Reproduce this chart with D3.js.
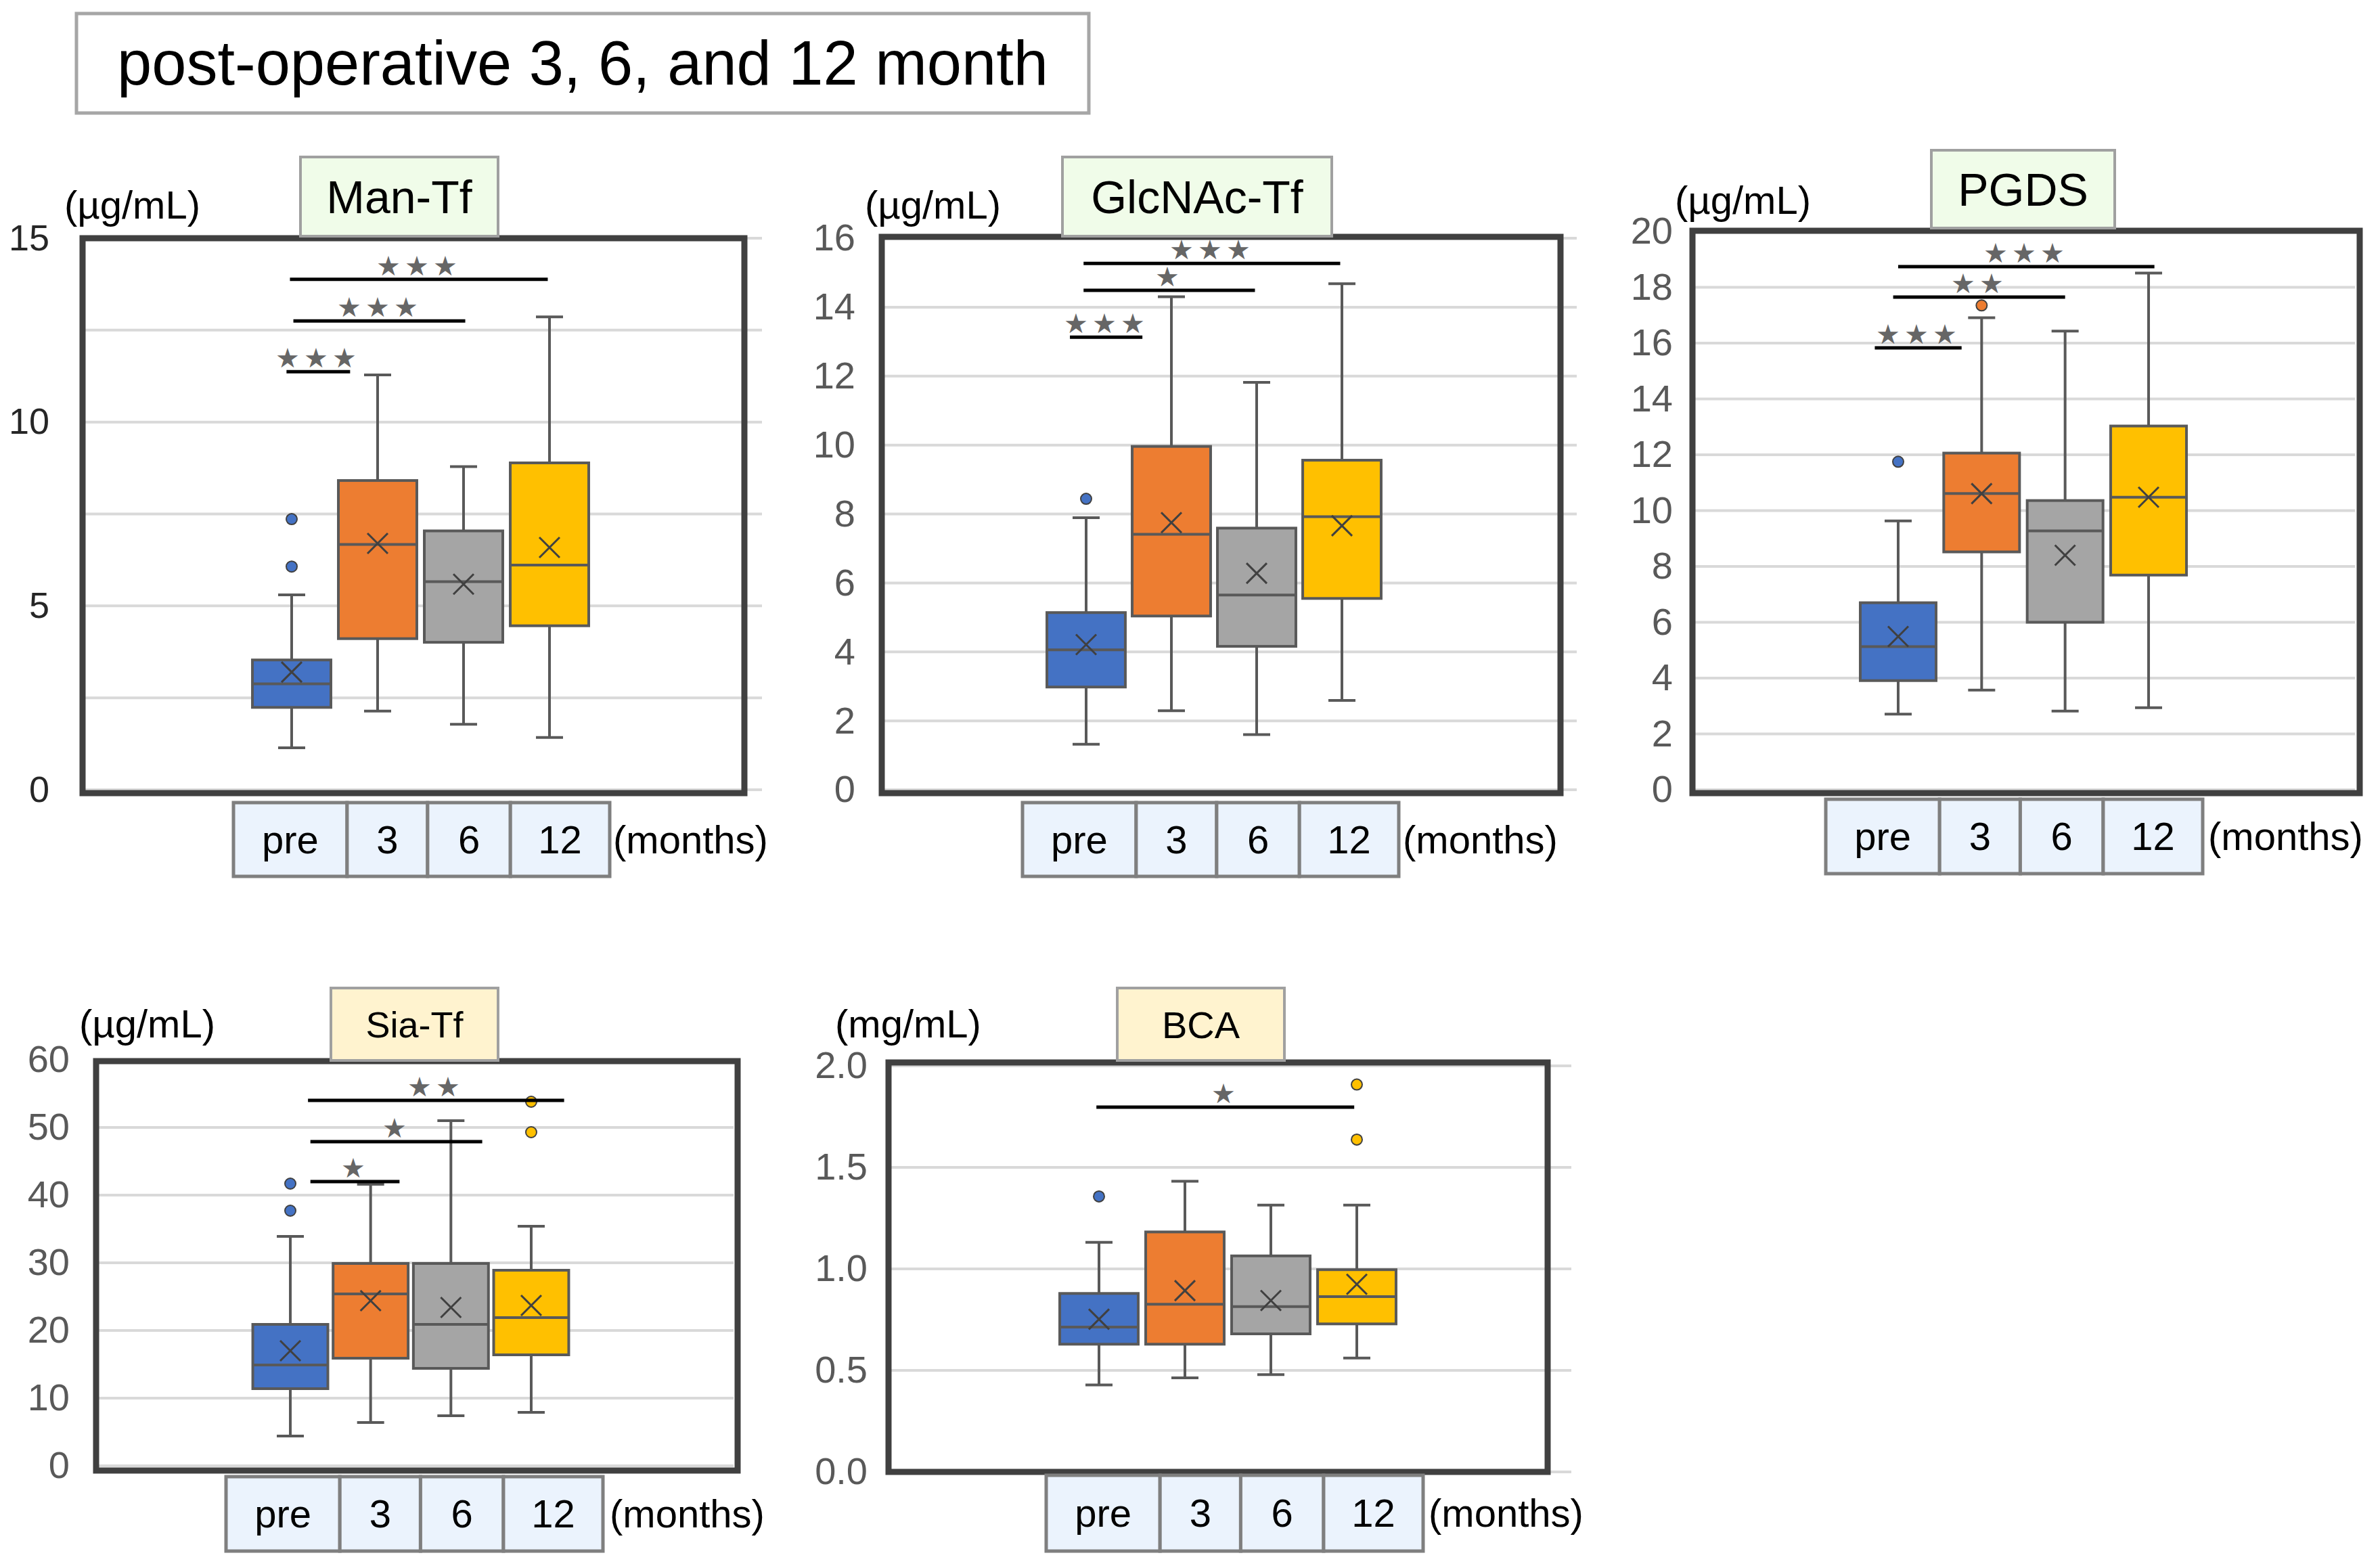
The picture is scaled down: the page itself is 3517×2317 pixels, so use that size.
<!DOCTYPE html>
<html>
<head>
<meta charset="utf-8">
<script src="https://cdn.jsdelivr.net/npm/d3@7"></script>
<style>
  body { margin: 0; background: #fff; }
  text { font-family: "Liberation Sans", Arial, sans-serif; }
</style>
</head>
<body>
<script>
// categories on the x axis
var categories = ["pre", "3", "6", "12"]
var colors = ["#4472C4", "#ED7D31", "#A5A5A5", "#FFC000"]

// box stats per category: [whisker low, Q1, median, Q3, whisker high, mean]
var manTfStats = [
  [1.14, 2.24, 2.88, 3.53, 5.30, 3.20],
  [2.14, 4.11, 6.67, 8.41, 11.28, 6.70],
  [1.78, 4.01, 5.66, 7.04, 8.79, 5.59],
  [1.42, 4.46, 6.11, 8.89, 12.86, 6.59]
]
var glcStats = [
  [1.32, 2.98, 4.06, 5.14, 7.89, 4.21],
  [2.29, 5.04, 7.41, 9.96, 14.30, 7.75],
  [1.60, 4.16, 5.65, 7.59, 11.82, 6.28],
  [2.59, 5.55, 7.92, 9.56, 14.68, 7.66]
]
var pgdsStats = [
  [2.71, 3.91, 5.13, 6.70, 9.63, 5.49],
  [3.57, 8.52, 10.61, 12.06, 16.91, 10.61],
  [2.82, 6.00, 9.27, 10.36, 16.43, 8.40],
  [2.94, 7.69, 10.48, 13.03, 18.51, 10.48]
]
var siaStats = [
  [4.4, 11.4, 14.9, 20.9, 33.9, 17.0],
  [6.4, 15.9, 25.4, 29.9, 41.6, 24.4],
  [7.4, 14.4, 20.9, 29.9, 51.0, 23.4],
  [7.9, 16.4, 21.9, 28.9, 35.4, 23.7]
]
var bcaStats = [
  [0.428, 0.629, 0.713, 0.879, 1.131, 0.752],
  [0.463, 0.629, 0.826, 1.182, 1.432, 0.893],
  [0.479, 0.680, 0.814, 1.064, 1.314, 0.844],
  [0.561, 0.729, 0.863, 0.996, 1.314, 0.924]
]

// outliers per category
var manTfOutliers = [[7.36, 6.07], [], [], []]
var glcOutliers = [[8.44], [], [], []]
var pgdsOutliers = [[11.75], [17.35], [], []]
var siaOutliers = [[41.7, 37.7], [], [], [53.8, 49.3]]
var bcaOutliers = [[1.357], [], [], [1.908, 1.637]]

// significance bars: [from (category index), to (category index), level, label]
var manTfSig = [[-0.06, 0.68, 11.37, "***"], [0.02, 2.02, 12.75, "***"], [-0.02, 2.98, 13.88, "***"]]
var glcSig = [[-0.19, 0.66, 13.13, "***"], [-0.03, 1.98, 14.49, "*"], [-0.03, 2.98, 15.27, "***"]]
var pgdsSig = [[-0.28, 0.76, 15.83, "***"], [-0.06, 2.0, 17.65, "**"], [0, 3.07, 18.74, "***"]]
var siaSig = [[0.25, 1.36, 42.0, "*"], [0.25, 2.39, 47.9, "*"], [0.22, 3.41, 54.0, "**"]]
var bcaSig = [[-0.03, 2.97, 1.797, "*"]]

// tick labels and gridlines
var manTfTicks = [0, 5, 10, 15]
var manTfGrid = [0, 2.5, 5, 7.5, 10, 12.5, 15]
var glcTicks = [0, 2, 4, 6, 8, 10, 12, 14, 16]
var pgdsTicks = [0, 2, 4, 6, 8, 10, 12, 14, 16, 18, 20]
var siaTicks = [0, 10, 20, 30, 40, 50, 60]
var bcaTicks = [0, 0.5, 1.0, 1.5, 2.0]

var W = 3517, H = 2317
var svg = d3.select("body").append("svg")
  .attr("width", W)
  .attr("height", H)

// main title
svg.append("rect")
  .attr("x", 113).attr("y", 20).attr("width", 1496).attr("height", 147)
  .attr("fill", "#fff").attr("stroke", "#a6a6a6").attr("stroke-width", 5)
svg.append("text")
  .attr("x", 861).attr("y", 125)
  .attr("text-anchor", "middle")
  .attr("font-size", "92px")
  .attr("fill", "#000")
  .text("post-operative 3, 6, and 12 month")

var panels = [
  {name: "Man-Tf", unit: "(µg/mL)", stats: manTfStats, outliers: manTfOutliers, sig: manTfSig,
   ticks: manTfTicks, grid: manTfGrid, fmt: d3.format("d"), tickColor: "#262626", tickSize: 54,
   fill: "#F0FCE9", titleSize: 68,
   frame: [122, 352, 978, 820], y: [1167, 352], band: [367.5, 875.5], pad: 0.087, gridEnd: 1126,
   tickX: 73, title: [444, 232, 292, 117], unitX: 95, unitY: 323, cells: [345, 1186, 556, 109], monthsX: 906},
  {name: "GlcNAc-Tf", unit: "(µg/mL)", stats: glcStats, outliers: glcOutliers, sig: glcSig,
   ticks: glcTicks, grid: glcTicks, fmt: d3.format("d"), tickColor: "#595959", tickSize: 56,
   fill: "#F0FCE9", titleSize: 68,
   frame: [1303, 350, 1003, 822], y: [1167, 352], band: [1542, 2046], pad: 0.08, gridEnd: 2330,
   tickX: 1264, title: [1570, 232, 398, 117], unitX: 1278, unitY: 323, cells: [1511, 1186, 556, 109], monthsX: 2073},
  {name: "PGDS", unit: "(µg/mL)", stats: pgdsStats, outliers: pgdsOutliers, sig: pgdsSig,
   ticks: pgdsTicks, grid: pgdsTicks, fmt: d3.format("d"), tickColor: "#595959", tickSize: 56,
   fill: "#F0FCE9", titleSize: 68,
   frame: [2501, 341, 986, 831], y: [1167, 342], band: [2743.3, 3236.7], pad: 0.092, gridEnd: 3480,
   tickX: 2472, title: [2854, 222, 271, 115], unitX: 2475, unitY: 316, cells: [2698, 1181, 557, 110], monthsX: 3263},
  {name: "Sia-Tf", unit: "(µg/mL)", stats: siaStats, outliers: siaOutliers, sig: siaSig,
   ticks: siaTicks, grid: siaTicks, fmt: d3.format("d"), tickColor: "#595959", tickSize: 56,
   fill: "#FFF3CF", titleSize: 54,
   frame: [142, 1568, 948, 605], y: [2166, 1566], band: [369.7, 844.3], pad: 0.065, gridEnd: 1084,
   tickX: 103, title: [489, 1460, 247, 107], unitX: 117, unitY: 1533, cells: [334, 2182, 557, 110], monthsX: 901},
  {name: "BCA", unit: "(mg/mL)", stats: bcaStats, outliers: bcaOutliers, sig: bcaSig,
   ticks: bcaTicks, grid: bcaTicks, fmt: d3.format(".1f"), tickColor: "#595959", tickSize: 56,
   fill: "#FFF3CF", titleSize: 56,
   frame: [1313, 1570, 974, 605], y: [2175, 1575], band: [1560.5, 2068.5], pad: 0.087, gridEnd: 2322,
   tickX: 1282, title: [1651, 1460, 247, 107], unitX: 1234, unitY: 1533, cells: [1546, 2180, 557, 112], monthsX: 2111}
]

var cellEdges = [0, 0.302, 0.516, 0.736, 1]

panels.forEach(function(p) {
  var g = svg.append("g")
  var y = d3.scaleLinear().domain([p.ticks[0], p.ticks[p.ticks.length - 1]]).range(p.y)
  var x = d3.scaleBand().domain(categories).range(p.band).paddingInner(p.pad).paddingOuter(p.pad / 2)
  var bw = x.bandwidth()
  var cx = function(i) { return x(categories[i]) + bw / 2 }
  var xi = d3.scaleLinear().domain([0, 3]).range([cx(0), cx(3)])

  // gridlines
  g.selectAll(".grid").data(p.grid).enter().append("line")
    .attr("x1", p.frame[0]).attr("x2", p.gridEnd)
    .attr("y1", d => y(d)).attr("y2", d => y(d))
    .attr("stroke", "#d9d9d9").attr("stroke-width", 4)

  // y tick labels
  var ag = g.append("g")
    .attr("transform", `translate(${p.tickX}, 0)`)
    .call(d3.axisLeft(y).tickValues(p.ticks).tickSize(0).tickPadding(0).tickFormat(p.fmt))
  ag.select(".domain").remove()
  ag.selectAll("text")
    .attr("font-size", p.tickSize + "px")
    .attr("font-family", "Liberation Sans, Arial, sans-serif")
    .attr("fill", p.tickColor)

  // frame
  g.append("rect")
    .attr("x", p.frame[0]).attr("y", p.frame[1])
    .attr("width", p.frame[2]).attr("height", p.frame[3])
    .attr("fill", "none").attr("stroke", "#404040").attr("stroke-width", 9)

  // whiskers
  var box = g.selectAll(".box").data(p.stats).enter().append("g")
  box.append("line")
    .attr("x1", (d, i) => cx(i)).attr("x2", (d, i) => cx(i))
    .attr("y1", d => y(d[0])).attr("y2", d => y(d[4]))
    .attr("stroke", "#595959").attr("stroke-width", 4)
  ;[0, 4].forEach(function(k) {
    box.append("line")
      .attr("x1", (d, i) => cx(i) - 20).attr("x2", (d, i) => cx(i) + 20)
      .attr("y1", d => y(d[k])).attr("y2", d => y(d[k]))
      .attr("stroke", "#595959").attr("stroke-width", 4)
  })
  // boxes
  box.append("rect")
    .attr("x", (d, i) => x(categories[i]))
    .attr("y", d => y(d[3]))
    .attr("width", bw)
    .attr("height", d => y(d[1]) - y(d[3]))
    .attr("fill", (d, i) => colors[i])
    .attr("stroke", "#595959").attr("stroke-width", 4)
  box.append("line")
    .attr("x1", (d, i) => x(categories[i])).attr("x2", (d, i) => x(categories[i]) + bw)
    .attr("y1", d => y(d[2])).attr("y2", d => y(d[2]))
    .attr("stroke", "#595959").attr("stroke-width", 4)
  // mean markers
  box.append("path")
    .attr("d", (d, i) => {
      var mx = cx(i), my = y(d[5]), s = 15
      return `M${mx - s},${my - s}L${mx + s},${my + s}M${mx + s},${my - s}L${mx - s},${my + s}`
    })
    .attr("stroke", "#404040").attr("stroke-width", 3).attr("fill", "none")

  // outliers
  var pts = []
  p.outliers.forEach((arr, i) => arr.forEach(v => pts.push({i: i, v: v})))
  g.selectAll(".out").data(pts).enter().append("circle")
    .attr("cx", d => cx(d.i)).attr("cy", d => y(d.v)).attr("r", 8)
    .attr("fill", d => colors[d.i]).attr("stroke", "#404040").attr("stroke-width", 2)

  // significance bars
  g.selectAll(".sig").data(p.sig).enter().append("line")
    .attr("x1", d => xi(d[0])).attr("x2", d => xi(d[1]))
    .attr("y1", d => y(d[2])).attr("y2", d => y(d[2]))
    .attr("stroke", "#000").attr("stroke-width", 5)
  g.selectAll(".sigt").data(p.sig).enter().append("text")
    .attr("x", d => (xi(d[0]) + xi(d[1])) / 2)
    .attr("y", d => y(d[2]) - 6)
    .attr("text-anchor", "middle")
    .attr("font-family", "DejaVu Sans")
    .attr("font-size", "40px")
    .attr("letter-spacing", "6px")
    .attr("fill", "#666")
    .text(d => d[3].replace(/\*/g, "★"))

  // panel title box
  g.append("rect")
    .attr("x", p.title[0]).attr("y", p.title[1]).attr("width", p.title[2]).attr("height", p.title[3])
    .attr("fill", p.fill).attr("stroke", "#a0a0a0").attr("stroke-width", 4)
  g.append("text")
    .attr("x", p.title[0] + p.title[2] / 2)
    .attr("y", p.title[1] + p.title[3] / 2 + p.titleSize * 0.36)
    .attr("text-anchor", "middle")
    .attr("font-size", p.titleSize + "px")
    .attr("fill", "#000")
    .text(p.name)

  // unit
  g.append("text")
    .attr("x", p.unitX).attr("y", p.unitY)
    .attr("font-size", "58px").attr("fill", "#000")
    .text(p.unit)

  // category cells under the plot
  var c = p.cells
  categories.forEach(function(cat, i) {
    var x0 = c[0] + cellEdges[i] * c[2], x1 = c[0] + cellEdges[i + 1] * c[2]
    g.append("rect")
      .attr("x", x0).attr("y", c[1]).attr("width", x1 - x0).attr("height", c[3])
      .attr("fill", "#EBF3FD").attr("stroke", "#7f7f7f").attr("stroke-width", 5)
    g.append("text")
      .attr("x", (x0 + x1) / 2).attr("y", c[1] + c[3] / 2 + 20)
      .attr("text-anchor", "middle")
      .attr("font-size", "58px").attr("fill", "#000")
      .text(cat)
  })
  g.append("text")
    .attr("x", p.monthsX).attr("y", c[1] + c[3] / 2 + 20)
    .attr("font-size", "58px").attr("fill", "#000")
    .text("(months)")
})
</script>
</body>
</html>
